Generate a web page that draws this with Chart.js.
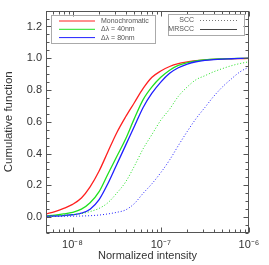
<!DOCTYPE html>
<html>
<head>
<meta charset="utf-8">
<script src="https://cdn.jsdelivr.net/npm/chart.js@4.4.1/dist/chart.umd.min.js"></script>
<style>
html, body { margin: 0; padding: 0; background: #fff; }
</style>
</head>
<body>
<canvas id="chart" width="269" height="265"></canvas>
<script>
// normalized intensity samples (log spaced)
var intensity = [5.01e-9, 6.31e-9, 7.94e-9, 1.0e-8, 1.26e-8, 1.58e-8, 2.0e-8, 2.51e-8, 3.16e-8, 3.98e-8, 5.01e-8, 6.31e-8,
  7.94e-8, 1.0e-7, 1.26e-7, 1.58e-7, 2.0e-7, 2.51e-7, 3.16e-7, 3.98e-7, 5.01e-7, 6.31e-7, 7.94e-7, 1.0e-6];

// MRSCC (solid)
var mrsccMono = [0.02, 0.035, 0.055, 0.08, 0.12, 0.19, 0.29, 0.41, 0.53, 0.63, 0.72, 0.81,
  0.88, 0.92, 0.948, 0.966, 0.977, 0.985, 0.99, 0.993, 0.995, 0.997, 0.998, 0.999];
var mrscc40 = [0.008, 0.012, 0.02, 0.03, 0.05, 0.09, 0.16, 0.27, 0.38, 0.49, 0.62, 0.74,
  0.82, 0.88, 0.925, 0.955, 0.972, 0.984, 0.99, 0.994, 0.996, 0.998, 0.999, 1.0];
var mrscc80 = [0.005, 0.007, 0.01, 0.015, 0.025, 0.05, 0.11, 0.21, 0.33, 0.45, 0.57, 0.69,
  0.78, 0.85, 0.905, 0.94, 0.963, 0.978, 0.987, 0.992, 0.995, 0.997, 0.999, 1.0];

// SCC (dotted)
var scc40 = [0.006, 0.008, 0.012, 0.016, 0.022, 0.035, 0.055, 0.09, 0.15, 0.22, 0.32, 0.43,
  0.52, 0.61, 0.68, 0.76, 0.82, 0.865, 0.89, 0.915, 0.935, 0.953, 0.967, 0.978];
var scc80 = [0.004, 0.004, 0.005, 0.006, 0.007, 0.009, 0.013, 0.02, 0.03, 0.045, 0.085, 0.15,
  0.21, 0.28, 0.36, 0.45, 0.54, 0.62, 0.69, 0.76, 0.82, 0.87, 0.915, 0.945];

var xTickValues = [1e-8, 1e-7, 1e-6];
var xTickLabels = ['10\u207B\u2078', '10\u207B\u2077', '10\u207B\u2076'];
var yTickValues = [0, 0.2, 0.4, 0.6, 0.8, 1.0, 1.2];
var yTickLabels = ['0.0', '0.2', '0.4', '0.6', '0.8', '1.0', '1.2'];

var curveLabels = ['Monochromatic', '\u0394\u03BB = 40nm', '\u0394\u03BB = 80nm'];
var styleLabels = ['SCC', 'MRSCC'];

var RED = '#ff2020', GREEN = '#20e020', BLUE = '#2020ff';

function pts(ys) {
  return ys.map(function(v, i) { return { x: intensity[i], y: v }; });
}

// frame, inward ticks and the two legend boxes, IDL style
var frameTicks = {
  id: 'frameTicks',
  afterDatasetsDraw: function(chart) {
    var ctx = chart.ctx, a = chart.chartArea;
    var xs = chart.scales.x, ys = chart.scales.y;
    var L = Math.round(a.left) + 0.5, R = Math.round(a.right) - 0.5;
    var T = Math.round(a.top) + 0.5, B = Math.round(a.bottom) - 0.5;
    ctx.save();
    ctx.strokeStyle = '#555';
    ctx.lineWidth = 1;
    ctx.strokeRect(L, T, R - L, B - T);
    ctx.beginPath();
    // x ticks
    for (var d = -9; d <= -6; d++) {
      for (var m = 1; m <= 9; m++) {
        var v = m * Math.pow(10, d);
        if (v < xs.min * 0.999 || v > xs.max * 1.001) continue;
        var px = Math.round(xs.getPixelForValue(v)) + 0.5;
        var len = m === 1 ? 5 : 3;
        ctx.moveTo(px, B); ctx.lineTo(px, B - len);
        ctx.moveTo(px, T); ctx.lineTo(px, T + len);
      }
    }
    // y ticks
    for (var k = -2; k <= 26; k++) {
      var yv = k * 0.05;
      if (yv < ys.min || yv > ys.max) continue;
      var py = Math.round(ys.getPixelForValue(yv)) + 0.5;
      var ylen = (k % 4 === 0) ? 5 : 3;
      ctx.moveTo(L, py); ctx.lineTo(L + ylen, py);
      ctx.moveTo(R, py); ctx.lineTo(R - ylen, py);
    }
    ctx.stroke();

    // left legend: curves
    ctx.strokeStyle = '#aaa';
    ctx.strokeRect(51.5, 15.5, 104, 28);
    var cols = [RED, GREEN, BLUE];
    ctx.font = '7px "Liberation Sans", Arial, sans-serif';
    ctx.textBaseline = 'middle';
    ctx.fillStyle = '#555';
    for (var i = 0; i < 3; i++) {
      var ly = 21 + i * 8.3;
      ctx.strokeStyle = cols[i];
      ctx.beginPath(); ctx.moveTo(59, ly); ctx.lineTo(95, ly); ctx.stroke();
      ctx.textAlign = 'left';
      ctx.fillText(curveLabels[i], 101, ly);
    }

    // right legend: line styles
    ctx.strokeStyle = '#aaa';
    ctx.strokeRect(168.5, 14.5, 76, 21);
    ctx.textAlign = 'right';
    ctx.fillText(styleLabels[0], 194, 20.5);
    ctx.fillText(styleLabels[1], 194, 29.5);
    ctx.strokeStyle = '#777';
    ctx.setLineDash([1, 2]);
    ctx.beginPath(); ctx.moveTo(200, 20.5); ctx.lineTo(237, 20.5); ctx.stroke();
    ctx.setLineDash([]);
    ctx.strokeStyle = '#444';
    ctx.beginPath(); ctx.moveTo(200, 29.5); ctx.lineTo(237, 29.5); ctx.stroke();
    ctx.restore();
  }
};

var ctx = document.getElementById('chart');
var myChart = new Chart(ctx, {
  type: 'line',
  data: {
    datasets: [
      { label: curveLabels[1] + ' SCC', data: pts(scc40), borderColor: GREEN, borderWidth: 1, borderDash: [1, 2] },
      { label: curveLabels[2] + ' SCC', data: pts(scc80), borderColor: BLUE, borderWidth: 1, borderDash: [1, 2] },
      { label: curveLabels[2], data: pts(mrscc80), borderColor: BLUE, borderWidth: 1.3 },
      { label: curveLabels[1], data: pts(mrscc40), borderColor: GREEN, borderWidth: 1.3 },
      { label: curveLabels[0], data: pts(mrsccMono), borderColor: RED, borderWidth: 1.3 }
    ]
  },
  options: {
    responsive: false,
    animation: false,
    devicePixelRatio: 1,
    layout: { padding: { left: 0, top: 7, right: 20, bottom: 0 } },
    elements: { point: { radius: 0 }, line: { cubicInterpolationMode: 'monotone', fill: false } },
    plugins: { legend: { display: false }, tooltip: { enabled: false } },
    scales: {
      x: {
        type: 'logarithmic',
        min: 5e-9,
        max: 1e-6,
        grid: { display: false, drawTicks: false },
        border: { display: false },
        afterBuildTicks: function(s) { s.ticks = xTickValues.map(function(v) { return { value: v }; }); },
        afterFit: function(s) { s.height = 32; },
        ticks: {
          autoSkip: false, maxRotation: 0, padding: 5, color: '#333',
          font: { family: '"Liberation Sans", Arial, sans-serif', size: 11 },
          callback: function(v, i) { return xTickLabels[i]; }
        },
        title: {
          display: true, text: 'Normalized intensity', color: '#333',
          font: { family: '"Liberation Sans", Arial, sans-serif', size: 11 },
          padding: { top: 2, bottom: 2 }
        }
      },
      y: {
        min: -0.1,
        max: 1.3,
        grid: { display: false, drawTicks: false },
        border: { display: false },
        afterBuildTicks: function(s) { s.ticks = yTickValues.map(function(v) { return { value: v }; }); },
        afterFit: function(s) { s.width = 46; },
        ticks: {
          autoSkip: false, padding: 4, color: '#333',
          font: { family: '"Liberation Sans", Arial, sans-serif', size: 11 },
          callback: function(v, i) { return yTickLabels[i]; }
        },
        title: {
          display: true, text: 'Cumulative function', color: '#333',
          font: { family: '"Liberation Sans", Arial, sans-serif', size: 11.5 },
          padding: { top: 2, bottom: 2 }
        }
      }
    }
  },
  plugins: [frameTicks]
});
</script>
</body>
</html>
